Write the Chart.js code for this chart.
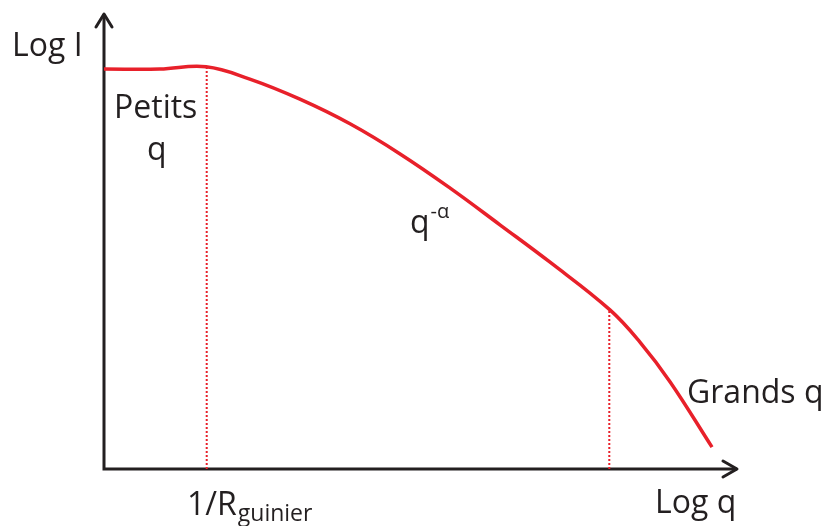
<!DOCTYPE html>
<html>
<head>
<meta charset="utf-8">
<script src="https://cdn.jsdelivr.net/npm/chart.js@4"></script>
<style>
  html, body { margin: 0; padding: 0; background: #ffffff; }
  #wrap { width: 830px; height: 526px; }
</style>
</head>
<body>
<div id="wrap"><canvas id="c" width="830" height="526"></canvas></div>
<script>
// Scattering profile: log I versus log q (arbitrary units)
const logQ = [0.00, 0.88, 1.61, 2.30, 3.09, 3.88, 4.67, 5.46, 6.25, 7.03, 7.98, 8.45, 8.93, 9.59];
const logI = [8.77, 8.77, 8.82, 8.55, 8.11, 7.57, 6.91, 6.16, 5.35, 4.54, 3.49, 2.79, 1.91, 0.48];

// Regime boundaries (log q) and the curve level at each
const boundaryQ = [1.62, 7.97];
const boundaryI = [8.82, 3.50];

const axisMax = { x: 10, y: 10 };

const RED = '#e8202a';
const INK = '#231f20';
const FONT = '"Open Sans", "DejaVu Sans", sans-serif';

const curve = logQ.map((q, i) => ({ x: q, y: logI[i] }));
const guides = boundaryQ.map((q, i) => ({
  type: 'line',
  data: [{ x: q, y: 0 }, { x: q, y: boundaryI[i] }],
  borderColor: RED,
  borderWidth: 2,
  borderDash: [2, 2],
  pointRadius: 0,
  tension: 0,
  clip: false
}));

// Axes with open arrowheads, drawn on the scale origin
const arrowAxes = {
  id: 'arrowAxes',
  beforeDatasetsDraw(chart) {
    const { ctx, scales } = chart;
    const x0 = scales.x.getPixelForValue(0);
    const y0 = scales.y.getPixelForValue(0);
    const xEnd = scales.x.getPixelForValue(axisMax.x);
    const yEnd = scales.y.getPixelForValue(axisMax.y);
    ctx.save();
    ctx.strokeStyle = INK;
    ctx.lineWidth = 3;
    ctx.lineCap = 'butt';
    ctx.lineJoin = 'miter';
    ctx.beginPath();
    ctx.moveTo(x0, yEnd + 1);
    ctx.lineTo(x0, y0);
    ctx.lineTo(xEnd - 1, y0);
    ctx.stroke();
    ctx.lineJoin = 'round';
    ctx.lineCap = 'round';
    ctx.beginPath();
    ctx.moveTo(x0 - 8, yEnd + 14);
    ctx.lineTo(x0, yEnd + 1);
    ctx.lineTo(x0 + 8, yEnd + 14);
    ctx.moveTo(xEnd - 15, y0 - 8);
    ctx.lineTo(xEnd - 1, y0);
    ctx.lineTo(xEnd - 15, y0 + 8);
    ctx.stroke();
    ctx.restore();
  }
};

// Annotations: axis titles and regime labels
const labels = {
  id: 'labels',
  afterDatasetsDraw(chart) {
    const { ctx } = chart;
    ctx.save();
    ctx.fillStyle = INK;
    ctx.textAlign = 'left';
    ctx.textBaseline = 'alphabetic';
    const put = (t, x, y, size) => {
      ctx.font = size + 'px ' + FONT;
      ctx.fillText(t, x, y);
      return ctx.measureText(t).width;
    };
    put('Log I', 12, 56, 32);
    put('Petits', 114, 118, 32);
    put('q', 147, 160, 32);
    const w = put('q', 410, 233, 32);
    put('-\u03b1', 410 + w + 1, 218, 20);
    put('Grands q', 687, 403, 32);
    const w2 = put('1/R', 187, 515, 32);
    put('guinier', 187 + w2 + 1, 521, 23);
    put('Log q', 655, 513, 32);
    ctx.restore();
  }
};

new Chart(document.getElementById('c'), {
  type: 'scatter',
  data: {
    datasets: [
      {
        type: 'line',
        data: curve,
        borderColor: RED,
        borderWidth: 3.5,
        pointRadius: 0,
        tension: 0.4,
        clip: false
      },
      ...guides
    ]
  },
  options: {
    responsive: false,
    devicePixelRatio: 1,
    animation: false,
    layout: { padding: { left: 104, right: 92, top: 13, bottom: 57 } },
    plugins: { legend: { display: false }, tooltip: { enabled: false } },
    scales: {
      x: { type: 'linear', min: 0, max: axisMax.x, display: false },
      y: { type: 'linear', min: 0, max: axisMax.y, display: false }
    }
  },
  plugins: [arrowAxes, labels]
});
</script>
</body>
</html>
